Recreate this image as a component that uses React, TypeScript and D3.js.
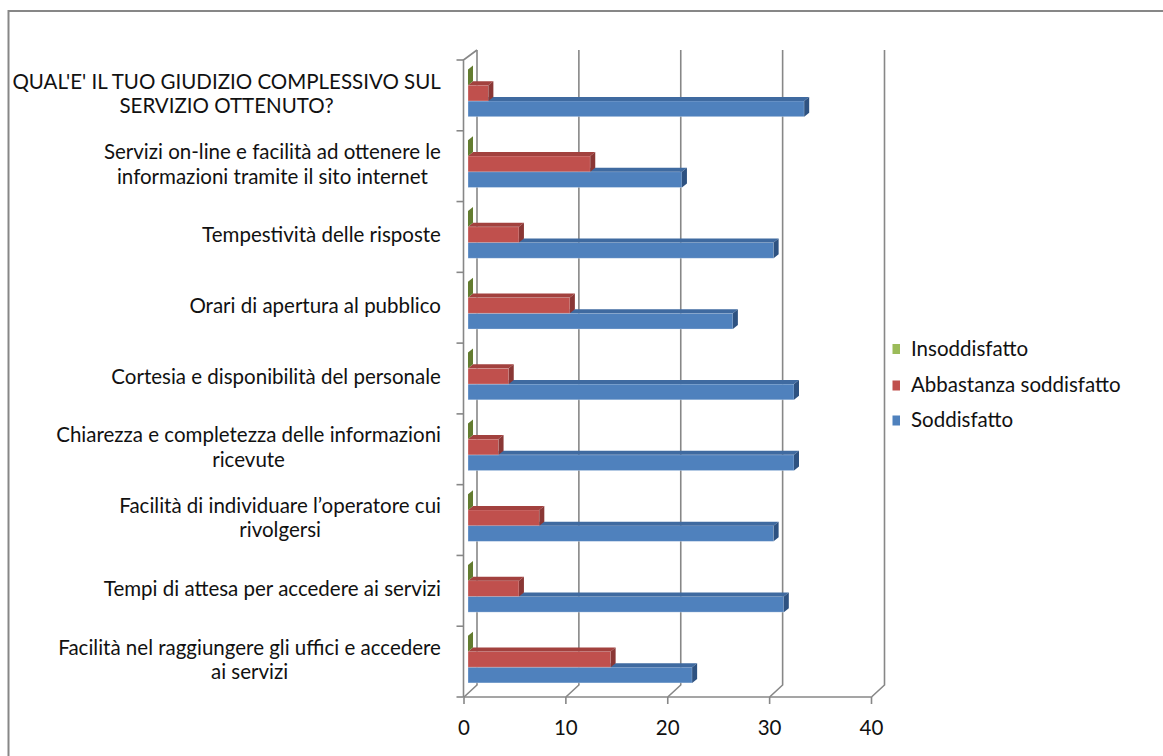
import { scaleBand, scaleLinear, select } from 'd3';
import React, { useEffect, useRef } from 'react';

const categories = [
  "QUAL'E' IL TUO GIUDIZIO COMPLESSIVO SUL\nSERVIZIO OTTENUTO?",
  'Servizi on-line e facilità ad ottenere le\ninformazioni tramite il sito internet',
  'Tempestività delle risposte',
  'Orari di apertura al pubblico',
  'Cortesia e disponibilità del personale',
  'Chiarezza e completezza delle informazioni\nricevute',
  'Facilità di individuare l’operatore cui\nrivolgersi',
  'Tempi di attesa per accedere ai servizi',
  'Facilità nel raggiungere gli uffici e accedere\nai servizi',
];

const insoddisfatto = [0, 0, 0, 0, 0, 0, 0, 0, 0];
const abbastanza = [2, 12, 5, 10, 4, 3, 7, 5, 14];
const soddisfatto = [33, 21, 30, 26, 32, 32, 30, 31, 22];

const seriesNames = ['Insoddisfatto', 'Abbastanza soddisfatto', 'Soddisfatto'];
const xTicks = [0, 10, 20, 30, 40];

const W = 1163;
const H = 756;
const FONT = 'Lato, sans-serif';
const FS = 20.5;
const GRID = '#878787';

// front, top, side colours per series (green, red, blue)
const faces = [
  ['#9BBB59', '#7f9c45', '#637c30'],
  ['#C0504D', '#a2413e', '#8a3735'],
  ['#4F81BD', '#3f6aa0', '#2e5281'],
];

export default function App() {
  const svgRef = useRef<SVGSVGElement>(null);

  useEffect(() => {
    if (svgRef.current) renderChart(svgRef.current);
  }, []);

  return (
    <svg
      ref={svgRef}
      width={W}
      height={H}
      style={{ position: 'absolute', left: 0, top: 0, display: 'block', background: '#fff' }}
    />
  );
}

function renderChart(el: SVGSVGElement) {
  const svg = select(el);
  svg.selectAll('*').remove();

  const x = scaleLinear().domain([0, 40]).range([464, 871.5]);
  const y = scaleBand<string>()
    .domain(categories.map((_, i) => String(i)))
    .range([60, 697]);
  const slot = scaleBand<string>().domain(['0', '1', '2']).range([9.5, 56.7]);
  const series = [insoddisfatto, abbastanza, soddisfatto];

  const wallDx = 13;
  const backTop = 50;
  const backBottom = 685;
  const floorY = 697;

  const barOff = 4;
  const depthX = 5;
  const depthY = -4;

  // chart area border (left and top only are in view)
  svg
    .append('path')
    .attr('d', `M8.5,${H} L8.5,11 L${W},11`)
    .attr('fill', 'none')
    .attr('stroke', GRID)
    .attr('stroke-width', 2);

  const grid = svg.append('g').attr('fill', 'none').attr('stroke', GRID).attr('stroke-width', 1.6);

  // back wall gridlines + floor diagonals
  xTicks.forEach(t => {
    const fx = x(t);
    grid
      .append('path')
      .attr('d', `M${fx},${floorY} L${fx + wallDx},${backBottom} L${fx + wallDx},${backTop}`);
    grid.append('line').attr('x1', fx).attr('x2', fx).attr('y1', floorY).attr('y2', floorY + 7);
  });

  // front floor line
  grid.append('line').attr('x1', x(0)).attr('x2', x(40)).attr('y1', floorY).attr('y2', floorY);

  // left (category) axis
  const ax = x(0) - 0.5;
  grid
    .append('path')
    .attr('d', `M${ax},${floorY} L${ax},${y.range()[0]} L${x(0) + wallDx},${backTop}`);
  const bounds = categories.map((_, i) => y(String(i)) as number).concat([y.range()[1]]);
  bounds.forEach(b => {
    grid.append('line').attr('x1', ax - 7).attr('x2', ax).attr('y1', b).attr('y2', b);
  });

  // bars
  const bars = svg.append('g');
  categories.forEach((_, ci) => {
    const y0 = y(String(ci)) as number;
    [2, 1, 0].forEach(si => {
      const v = series[si][ci];
      const top = y0 + (slot(String(si)) as number);
      const h = slot.bandwidth();
      const xa = x(0) + barOff;
      const xb = x(v) + barOff;
      const [cf, ct, cs] = faces[si];
      if (xb > xa) {
        bars
          .append('rect')
          .attr('x', xa)
          .attr('y', top)
          .attr('width', xb - xa)
          .attr('height', h)
          .attr('fill', cf)
          .attr('stroke', 'rgba(255,255,255,0.35)')
          .attr('stroke-width', 0.8);
        bars
          .append('path')
          .attr(
            'd',
            `M${xa},${top} L${xb},${top} L${xb + depthX},${top + depthY} L${xa + depthX},${top + depthY} Z`,
          )
          .attr('fill', ct);
      }
      bars
        .append('path')
        .attr(
          'd',
          `M${xb},${top} L${xb + depthX},${top + depthY} L${xb + depthX},${top + h + depthY} L${xb},${top + h} Z`,
        )
        .attr('fill', cs);
    });
  });

  // category labels: centered lines, block right-aligned to the axis
  const capH = FS * 0.68;
  categories.forEach((label, ci) => {
    const lines = label.split('\n');
    const cy = (y(String(ci)) as number) + y.bandwidth() / 2 - 1.7;
    const g = svg
      .append('g')
      .style('font-family', FONT)
      .style('font-size', `${FS}px`)
      .attr('fill', '#111');
    lines.forEach((ln, li) => {
      const lc = cy + (li - (lines.length - 1) / 2) * 24.2;
      g.append('text')
        .attr('x', 0)
        .attr('y', lc + capH / 2)
        .attr('text-anchor', 'middle')
        .text(ln);
    });
    const w = (g.node() as SVGGElement).getBBox().width;
    g.attr('transform', `translate(${441 - w / 2},0)`);
  });

  // value axis labels
  svg
    .append('g')
    .style('font-family', FONT)
    .style('font-size', `${FS}px`)
    .attr('fill', '#111')
    .selectAll('text')
    .data(xTicks)
    .join('text')
    .attr('x', d => x(d))
    .attr('y', 728 + capH / 2)
    .attr('text-anchor', 'middle')
    .text(d => String(d));

  // legend
  const legY = [349, 385.5, 420.5];
  const leg = svg
    .append('g')
    .style('font-family', FONT)
    .style('font-size', `${FS}px`)
    .attr('fill', '#111');
  seriesNames.forEach((name, i) => {
    leg
      .append('rect')
      .attr('x', 892.5)
      .attr('y', legY[i] - 5)
      .attr('width', 7.5)
      .attr('height', 10)
      .attr('fill', faces[i][0]);
    leg
      .append('text')
      .attr('x', 911)
      .attr('y', legY[i] + capH / 2)
      .text(name);
  });
}
